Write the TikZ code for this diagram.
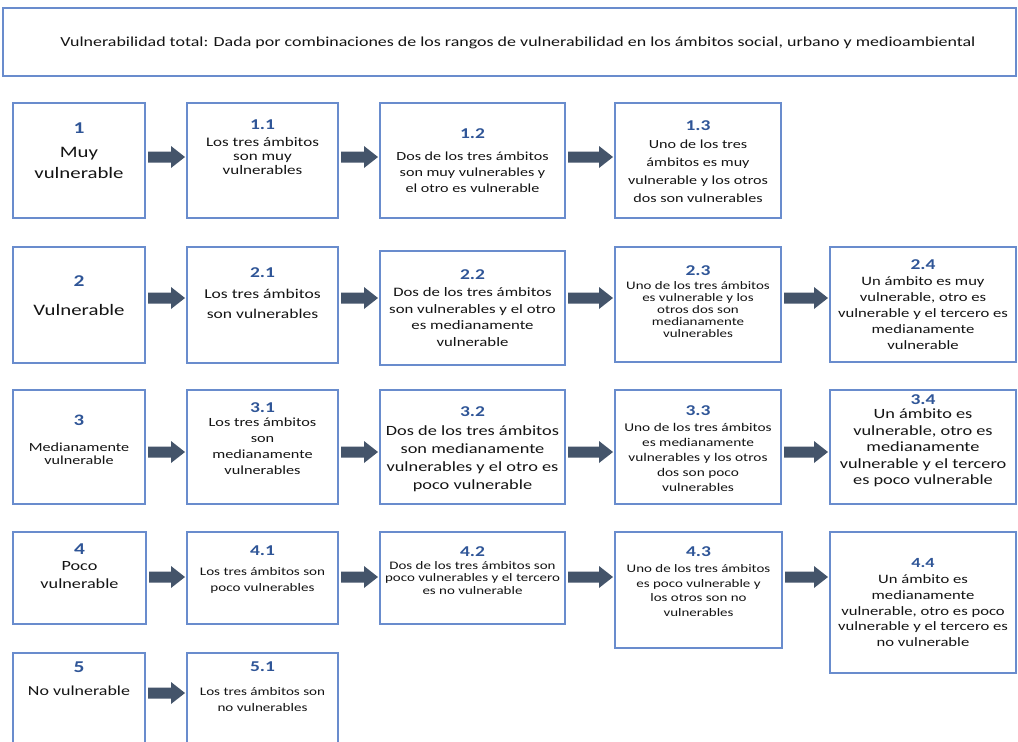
\documentclass[tikz,border=0pt]{standalone}
\usepackage{fontspec}
\setmainfont{Carlito}[FakeStretch=1.3]
\usetikzlibrary{calc}
\definecolor{boxc}{RGB}{105,140,205}
\definecolor{lblc}{RGB}{47,85,151}
\definecolor{arrc}{RGB}{68,84,106}
\definecolor{txtc}{RGB}{20,20,20}
\tikzset{
  boxs/.style={draw=boxc, line width=2pt, fill=white, inner sep=0pt, outer sep=0pt, anchor=north west},
  txt/.style={anchor=base, inner sep=0pt, text=txtc},
  lbls/.style={anchor=base, inner sep=0pt, text=lblc},
  arrs/.style={fill=arrc}
}
% box: name, x1, y1, x2, y2
\newcommand\mybox[5]{\node[boxs, minimum width={(#4-#2)*1pt}, minimum height={(#5-#3)*1pt}] (#1) at (#2,#3) {};}
% lines: name, x, first baseline, skip, size, {lines}
\newcommand\tlines[6]{\foreach \tl [count=\i] in {#6}{\node[txt, font=\fontsize{#5}{#5}\selectfont] (#1-\i) at (#2,{#3+(\i-1)*#4}) {\tl};}}
% label: name, x, baseline, size, text
\newcommand\lbl[5]{\node[lbls, font=\bfseries\fontsize{#4}{#4}\selectfont] (#1) at (#2,#3) {#5};}
% block arrow: from, to, row coordinate
\newcommand\barrow[3]{\fill[arrs] ($(#1.east|-#3)+(3,-5.5)$) -- ($(#2.west|-#3)+(-16,-5.5)$) -- ($(#2.west|-#3)+(-16,-11)$) -- ($(#2.west|-#3)+(-2,0)$) -- ($(#2.west|-#3)+(-16,11)$) -- ($(#2.west|-#3)+(-16,5.5)$) -- ($(#1.east|-#3)+(3,5.5)$) -- cycle;}
\begin{document}
\begin{tikzpicture}[x=1pt,y=-1pt]
\useasboundingbox (0,0) rectangle (1018,742);
\clip (0,0) rectangle (1018,742);
\fill[white] (0,0) rectangle (1018,742);
% title
\node[boxs, line width=1.5pt, minimum width=1013pt, minimum height=68pt] (title) at (3,8) {};
\node[txt, font=\fontsize{13.8}{13.8}\selectfont] (titletext) at (518,46.5) {Vulnerabilidad total: Dada por combinaciones de los rangos de vulnerabilidad en los ámbitos social, urbano y medioambiental};
% row coordinates
\coordinate (r1) at (0,157);
\coordinate (r2) at (0,298);
\coordinate (r3) at (0,452);
\coordinate (r4) at (0,577);
\coordinate (r5) at (0,693);
% ---------- row 1
\mybox{b1}{13}{103}{145}{218}
\mybox{b11}{187}{103}{338}{218}
\mybox{b12}{380}{103}{565}{218}
\mybox{b13}{615}{103}{781}{218}
\lbl{l1}{79}{133}{16.5}{1}
\tlines{t1}{79}{157}{21}{16}{Muy,vulnerable}
\lbl{l11}{262.5}{129}{15}{1.1}
\tlines{t11}{262.5}{146.5}{14}{13.1}{Los tres ámbitos,son muy,vulnerables}
\lbl{l12}{472.5}{138}{15}{1.2}
\tlines{t12}{472.5}{160.5}{16}{12.4}{Dos de los tres ámbitos,son muy vulnerables y,el otro es vulnerable}
\lbl{l13}{698}{130}{15}{1.3}
\tlines{t13}{698}{148}{18}{12.4}{Uno de los tres,ámbitos es muy,vulnerable y los otros,dos son vulnerables}
\barrow{b1}{b11}{r1}
\barrow{b11}{b12}{r1}
\barrow{b12}{b13}{r1}
% ---------- row 2
\mybox{b2}{13}{247}{145}{363}
\mybox{b21}{187}{247}{338}{363}
\mybox{b22}{380}{251}{565}{365}
\mybox{b23}{615}{247}{781}{362}
\mybox{b24}{830}{247}{1016}{362}
\lbl{l2}{79}{286}{16.5}{2}
\tlines{t2}{79}{315}{21}{16}{Vulnerable}
\lbl{l21}{262.5}{277.5}{15}{2.1}
\tlines{t21}{262.5}{298.5}{20}{13.5}{Los tres ámbitos,son vulnerables}
\lbl{l22}{472.5}{279.5}{15}{2.2}
\tlines{t22}{472.5}{296.5}{16.5}{12.9}{Dos de los tres ámbitos,son vulnerables y el otro,es medianamente,vulnerable}
\lbl{l23}{698}{275}{15}{2.3}
\tlines{t23}{698}{289}{12}{11.5}{Uno de los tres ámbitos,es vulnerable y los,otros dos son,medianamente,vulnerables}
\lbl{l24}{923}{269}{15}{2.4}
\tlines{t24}{923}{285}{16}{12.8}{Un ámbito es muy,{vulnerable, otro es},vulnerable y el tercero es,medianamente,vulnerable}
\barrow{b2}{b21}{r2}
\barrow{b21}{b22}{r2}
\barrow{b22}{b23}{r2}
\barrow{b23}{b24}{r2}
% ---------- row 3
\mybox{b3}{13}{390}{145}{504}
\mybox{b31}{187}{390}{338}{504}
\mybox{b32}{380}{390}{565}{504}
\mybox{b33}{615}{390}{781}{504}
\mybox{b34}{830}{390}{1016}{504}
\lbl{l3}{79}{425}{16}{3}
\tlines{t3}{79}{451}{13.5}{12.4}{Medianamente,vulnerable}
\lbl{l31}{262.5}{412}{15}{3.1}
\tlines{t31}{262.5}{426.5}{16}{12.5}{Los tres ámbitos,son,medianamente,vulnerables}
\lbl{l32}{472.5}{416}{15}{3.2}
\tlines{t32}{472.5}{435.5}{18}{14.1}{Dos de los tres ámbitos,son medianamente,vulnerables y el otro es,poco vulnerable}
\lbl{l33}{698}{415}{15}{3.3}
\tlines{t33}{698}{431.5}{15}{11.8}{Uno de los tres ámbitos,es medianamente,vulnerables y los otros,dos son poco,vulnerables}
\lbl{l34}{923}{404}{15}{3.4}
\tlines{t34}{923}{418.5}{16.5}{14.1}{Un ámbito es,{vulnerable, otro es},medianamente,vulnerable y el tercero,es poco vulnerable}
\barrow{b3}{b31}{r3}
\barrow{b31}{b32}{r3}
\barrow{b32}{b33}{r3}
\barrow{b33}{b34}{r3}
% ---------- row 4
\mybox{b4}{13}{532}{146}{624}
\mybox{b41}{187}{532}{338}{624}
\mybox{b42}{380}{532}{565}{624}
\mybox{b43}{615}{532}{782}{648}
\mybox{b44}{830}{532}{1016}{673}
\lbl{l4}{79.5}{554}{16.5}{4}
\tlines{t4}{79.5}{570}{18}{14}{Poco,vulnerable}
\lbl{l41}{262.5}{555}{15}{4.1}
\tlines{t41}{262.5}{575.5}{16}{11.6}{Los tres ámbitos son,poco vulnerables}
\lbl{l42}{472.5}{556}{15}{4.2}
\tlines{t42}{472.5}{569}{12.5}{11.5}{Dos de los tres ámbitos son,poco vulnerables y el tercero,es no vulnerable}
\lbl{l43}{698.5}{556}{15}{4.3}
\tlines{t43}{698.5}{572.5}{14.7}{11.5}{Uno de los tres ámbitos,es poco vulnerable y,los otros son no,vulnerables}
\lbl{l44}{923}{567.5}{14}{4.4}
\tlines{t44}{923}{583.5}{15.8}{12.8}{Un ámbito es,medianamente,{vulnerable, otro es poco},vulnerable y el tercero es,no vulnerable}
\barrow{b4}{b41}{r4}
\barrow{b41}{b42}{r4}
\barrow{b42}{b43}{r4}
\barrow{b43}{b44}{r4}
% ---------- row 5
\mybox{b5}{13}{653}{145}{760}
\mybox{b51}{187}{653}{338}{760}
\lbl{l5}{79}{672}{16.5}{5}
\tlines{t5}{79}{695}{18}{13.8}{No vulnerable}
\lbl{l51}{262.5}{671}{15}{5.1}
\tlines{t51}{262.5}{695.5}{16}{11.6}{Los tres ámbitos son,no vulnerables}
\barrow{b5}{b51}{r5}
\end{tikzpicture}
\end{document}
